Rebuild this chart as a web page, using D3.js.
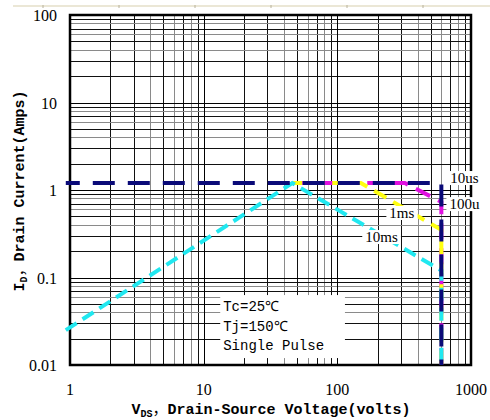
<!DOCTYPE html>
<html>
<head>
<meta charset="utf-8">
<script src="https://cdn.jsdelivr.net/npm/d3@7"></script>
<style>
  body { margin: 0; background: #fff; }
  svg { display: block; }
</style>
</head>
<body>
<svg id="soa" width="490" height="420"></svg>
<script>
const X_TICKS = [1, 10, 100, 1000]
const Y_TICKS = [0.01, 0.1, 1, 10, 100]
const SERIES = ['10us', '100us', '1ms', '10ms']
// limit curves (V, A)
const VDS_10US = [0.93, 600, 600]
const ID_10US = [1.2, 1.2, 0.01]
const VDS_100US = [46, 320, 600, 600]
const ID_100US = [1.2, 1.2, 0.73, 0.01]
const VDS_1MS = [46, 150, 600, 600]
const ID_1MS = [1.2, 1.2, 0.35, 0.01]
const VDS_10MS = [0.93, 46, 600, 600]
const ID_10MS = [0.025, 1.2, 0.12, 0.01]
const NOTES = ['Tc=25℃', 'Tj=150℃', 'Single Pulse']

function whenDocumentLoaded(action) {
  if (document.readyState === "loading") {
    document.addEventListener("DOMContentLoaded", action);
  } else {
    action();
  }
}

whenDocumentLoaded(() => {
  const svg = d3.select('#soa');
  const x = d3.scaleLog().domain([1, 1000]).range([70, 471]);
  const y = d3.scaleLog().domain([0.01, 100]).range([365, 15]);

  // faint strip at the very top of the scan
  svg.append('line').attr('x1', 13).attr('x2', 490).attr('y1', 6).attr('y2', 6)
     .attr('stroke', '#ebe7d6').attr('stroke-width', 2);
  d3.range(6).forEach(i => {
    svg.append('line').attr('x1', 43 + i * 76).attr('x2', 43 + i * 76)
       .attr('y1', 5).attr('y2', 8).attr('stroke', '#b8b29c');
  });

  // log grid
  const grid = svg.append('g');
  const minor = (lo, hi) => {
    const out = [];
    for (let d = lo; d < hi; d *= 10) {
      for (let k = 2; k <= 9; k++) out.push({v: k * d, k: k});
    }
    return out;
  };
  const shade = k => (k === 4 || k === 6 || k === 8) ? '#8a8a8a' : '#111';
  grid.selectAll('.vx').data(minor(1, 1000)).join('line')
      .attr('x1', d => Math.round(x(d.v)) + 0.5).attr('x2', d => Math.round(x(d.v)) + 0.5)
      .attr('y1', 15).attr('y2', 365)
      .attr('stroke', d => shade(d.k)).attr('stroke-width', 1);
  grid.selectAll('.hy').data(minor(0.01, 100)).join('line')
      .attr('y1', d => Math.round(y(d.v)) + 0.5).attr('y2', d => Math.round(y(d.v)) + 0.5)
      .attr('x1', 70).attr('x2', 471)
      .attr('stroke', d => shade(d.k)).attr('stroke-width', 1);
  grid.selectAll('.mx').data(X_TICKS).join('line')
      .attr('x1', d => Math.round(x(d)) + 0.5).attr('x2', d => Math.round(x(d)) + 0.5)
      .attr('y1', 15).attr('y2', 365).attr('stroke', '#000');
  grid.selectAll('.my').data(Y_TICKS).join('line')
      .attr('y1', d => Math.round(y(d)) + 0.5).attr('y2', d => Math.round(y(d)) + 0.5)
      .attr('x1', 70).attr('x2', 471).attr('stroke', '#000');

  // notes box hides the grid
  const bx0 = x(13.3), bx1 = x(114), by0 = y(0.063), by1 = y(0.012);
  svg.append('rect').attr('x', bx0).attr('y', by0)
     .attr('width', bx1 - bx0).attr('height', by1 - by0).attr('fill', '#fff');

  // frame
  svg.append('rect').attr('x', 70).attr('y', 15).attr('width', 401).attr('height', 350)
     .attr('fill', 'none').attr('stroke', '#000').attr('stroke-width', 2.5);

  // curves, 10us drawn last so its dashes sit on top
  const line = d3.line().x(d => x(d[0])).y(d => y(d[1]));
  const curves = [
    {name: SERIES[1], v: VDS_100US, i: ID_100US, color: '#e010e0', dash: '16,9', off: 0},
    {name: SERIES[2], v: VDS_1MS, i: ID_1MS, color: '#ffff10', dash: '14,8', off: 4},
    {name: SERIES[3], v: VDS_10MS, i: ID_10MS, color: '#20e8f0', dash: '13,7', off: 0},
    {name: SERIES[0], v: VDS_10US, i: ID_10US, color: '#0a0a78', dash: '22,13', off: 8}
  ];
  svg.append('g').selectAll('path').data(curves).join('path')
     .attr('d', c => line(c.v.map((v, j) => [v, c.i[j]])))
     .attr('fill', 'none')
     .attr('stroke', c => c.color)
     .attr('stroke-width', 4)
     .attr('stroke-dasharray', c => c.dash)
     .attr('stroke-dashoffset', c => c.off);

  // curve labels on white
  const tags = [
    {t: '10us', v: 893, i: 1.37},
    {t: '100u', v: 893, i: 0.69},
    {t: '1ms', v: 304, i: 0.546},
    {t: '10ms', v: 214, i: 0.29}
  ];
  const tagG = svg.append('g').attr('font-family', '"Liberation Serif", serif').attr('font-size', 15);
  tags.forEach(d => {
    const t = tagG.append('text').attr('x', x(d.v)).attr('y', y(d.i) + 5)
                  .attr('text-anchor', 'middle').text(d.t);
    const b = t.node().getBBox();
    tagG.insert('rect', 'text').attr('x', b.x - 3).attr('y', b.y + 1)
        .attr('width', b.width + 6).attr('height', b.height - 2).attr('fill', '#fff');
  });

  // notes
  svg.append('g').selectAll('text').data(NOTES).join('text')
     .attr('x', bx0 + 3).attr('y', (d, j) => by0 + 16 + j * 19.5)
     .attr('font-family', '"Liberation Mono", monospace').attr('font-size', 14)
     .text(d => d);

  // tick labels
  const fmt = d => d < 1 ? String(d) : d3.format('d')(d);
  svg.append('g').selectAll('text').data(Y_TICKS).join('text')
     .attr('x', 57).attr('y', d => y(d) + 6)
     .attr('text-anchor', 'end')
     .attr('font-family', '"Liberation Serif", serif').attr('font-size', 16)
     .text(fmt);
  svg.append('g').selectAll('text').data(X_TICKS).join('text')
     .attr('x', d => x(d)).attr('y', 395)
     .attr('text-anchor', 'middle')
     .attr('font-family', '"Liberation Serif", serif').attr('font-size', 16)
     .text(fmt);

  // axis titles
  const cjk = '"Noto Sans CJK SC", sans-serif';
  const xt = svg.append('text').attr('x', 271).attr('y', 414).attr('text-anchor', 'middle')
     .attr('font-family', '"Liberation Mono", monospace').attr('font-size', 15).attr('font-weight', 'bold');
  xt.append('tspan').text('V');
  xt.append('tspan').attr('font-size', 10).attr('dy', 3).text('DS');
  xt.append('tspan').attr('dy', -3).attr('font-family', cjk).attr('font-weight', 'normal').text('，');
  xt.append('tspan').text('Drain-Source Voltage(volts)');

  const yt = svg.append('text').attr('transform', 'translate(24,191) rotate(-90)')
     .attr('text-anchor', 'middle')
     .attr('font-family', '"Liberation Mono", monospace').attr('font-size', 15).attr('font-weight', 'bold');
  yt.append('tspan').text('I');
  yt.append('tspan').attr('font-size', 10).attr('dy', 3).text('D');
  yt.append('tspan').attr('dy', -3).attr('font-family', cjk).attr('font-weight', 'normal').text('，');
  yt.append('tspan').text('Drain Current(Amps)');
});
</script>
</body>
</html>
